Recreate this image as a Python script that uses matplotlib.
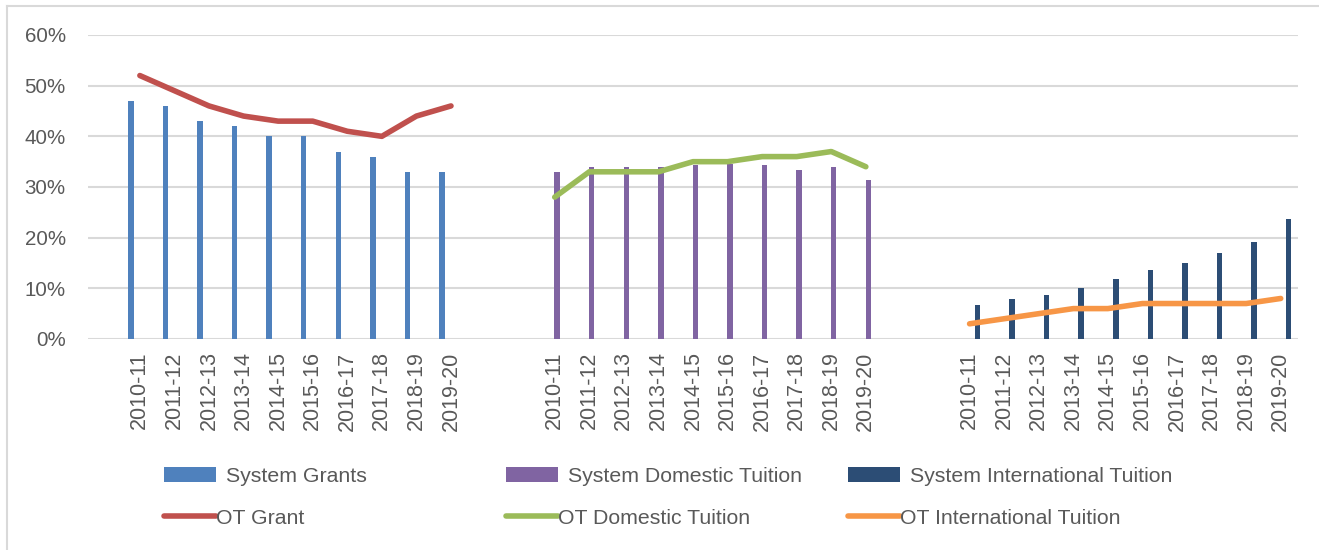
import matplotlib
matplotlib.use("Agg")
import matplotlib.pyplot as plt
from matplotlib.patches import Patch
from matplotlib.lines import Line2D
from matplotlib.ticker import FuncFormatter

years = ["2010-11", "2011-12", "2012-13", "2013-14", "2014-15",
         "2015-16", "2016-17", "2017-18", "2018-19", "2019-20"]

# values in percent
system_grants = [47, 46, 43, 42, 40, 40, 37, 36, 33, 33]
system_domestic = [32.9, 33.9, 33.9, 33.9, 34.3, 34.6, 34.3, 33.3, 33.9, 31.4]
system_international = [6.8, 7.8, 8.7, 10.0, 11.8, 13.7, 15.0, 17.0, 19.1, 23.7]

ot_grant = [52, 49, 46, 44, 43, 43, 41, 40, 44, 46]
ot_domestic = [28, 33, 33, 33, 35, 35, 36, 36, 37, 34]
ot_international = [3, 4, 5, 6, 6, 7, 7, 7, 7, 8]

TEXT = "#595959"
GRID = "#D9D9D9"

plt.rcParams["font.family"] = ["Liberation Sans", "DejaVu Sans"]

fig = plt.figure(figsize=(13.19, 5.5), dpi=100)
ax = fig.add_axes([88 / 1319, 1 - 339 / 550, (1298 - 88) / 1319, (339 - 35) / 550])

# three blocks of ten years, two empty category slots between blocks
starts = [0, 12, 24]
groups = [
    (system_grants, ot_grant, "#4F81BD", "#C0504D", -0.26,
     "System Grants", "OT Grant"),
    (system_domestic, ot_domestic, "#8064A2", "#9BBB59", 0.07,
     "System Domestic Tuition", "OT Domestic Tuition"),
    (system_international, ot_international, "#2C4D75", "#F79646", 0.23,
     "System International Tuition", "OT International Tuition"),
]

ticks, ticklabels = [], []
for start, (bars, line, bcol, lcol, off, _, _) in zip(starts, groups):
    xs = [start + i for i in range(len(years))]
    ax.bar([x + off for x in xs], bars, width=0.16, color=bcol, zorder=2)
    ax.plot(xs, line, color=lcol, lw=4.0, solid_capstyle="round",
            solid_joinstyle="round", zorder=3)
    ticks += xs
    ticklabels += years

ax.set_xlim(-1.5, 33.5)
ax.set_ylim(0, 60)
ax.set_yticks(range(0, 61, 10))
ax.yaxis.set_major_formatter(FuncFormatter(lambda v, p: "%d%%" % v))
ax.set_xticks(ticks)
ax.set_xticklabels(ticklabels, rotation=90)
ax.tick_params(axis="x", length=0, pad=9, labelsize=15.5, labelcolor=TEXT)
ax.tick_params(axis="y", length=0, pad=16, labelsize=14.8, labelcolor=TEXT)
ax.grid(axis="y", color=GRID, lw=1.5, zorder=0)
for s in ax.spines.values():
    s.set_visible(False)

# legend: one small legend per entry so the columns sit where they do in the reference
col_x = [164, 506, 848]
row_y = [476, 518]
for cx, (_, _, bcol, lcol, _, bname, lname) in zip(col_x, groups):
    bar_h = Patch(facecolor=bcol)
    line_h = Line2D([], [], color=lcol, lw=4.0, solid_capstyle="round")
    for h, name, ry, tpad in [(bar_h, bname, row_y[0], 0.45), (line_h, lname, row_y[1], 0.0)]:
        fig.legend([h], [name], loc="center left",
                   bbox_to_anchor=(cx / 1319, 1 - ry / 550),
                   frameon=False, borderpad=0, borderaxespad=0,
                   handlelength=2.45, handletextpad=tpad,
                   fontsize=15.3, labelcolor=TEXT)

# chart area border (left and top edges visible in the crop)
fig.add_artist(Line2D([7 / 1319, 7 / 1319], [0, 1 - 6 / 550], color=GRID, lw=1.5))
fig.add_artist(Line2D([7 / 1319, 1], [1 - 6 / 550, 1 - 6 / 550], color=GRID, lw=1.5))

fig.savefig("out.png", dpi=100)
